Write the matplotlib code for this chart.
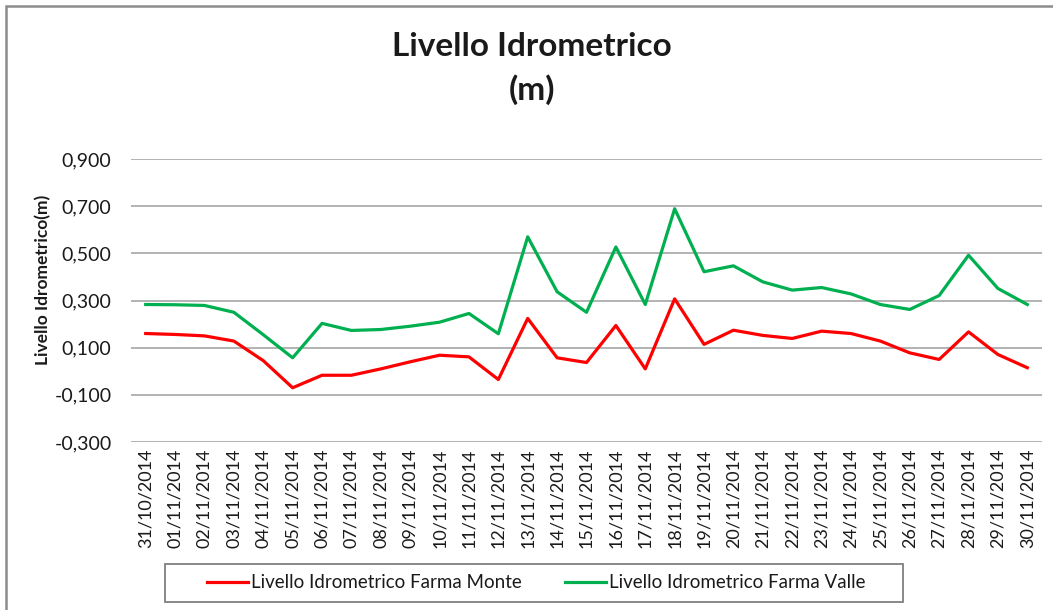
import matplotlib.pyplot as plt
from matplotlib.patches import Rectangle
import numpy as np

# giorni di misura
dates = ["31/10/2014", "01/11/2014", "02/11/2014", "03/11/2014", "04/11/2014",
         "05/11/2014", "06/11/2014", "07/11/2014", "08/11/2014", "09/11/2014",
         "10/11/2014", "11/11/2014", "12/11/2014", "13/11/2014", "14/11/2014",
         "15/11/2014", "16/11/2014", "17/11/2014", "18/11/2014", "19/11/2014",
         "20/11/2014", "21/11/2014", "22/11/2014", "23/11/2014", "24/11/2014",
         "25/11/2014", "26/11/2014", "27/11/2014", "28/11/2014", "29/11/2014",
         "30/11/2014"]

# livelli idrometrici (m)
monte = [0.160, 0.156, 0.150, 0.128, 0.045, -0.070, -0.017, -0.017, 0.010, 0.040,
         0.068, 0.061, -0.035, 0.224, 0.057, 0.037, 0.194, 0.010, 0.307, 0.114,
         0.174, 0.152, 0.139, 0.170, 0.160, 0.128, 0.078, 0.050, 0.167, 0.071,
         0.015]
valle = [0.283, 0.282, 0.279, 0.250, 0.155, 0.057, 0.203, 0.173, 0.177, 0.191,
         0.208, 0.245, 0.159, 0.570, 0.337, 0.250, 0.527, 0.283, 0.689, 0.422,
         0.447, 0.379, 0.344, 0.355, 0.328, 0.283, 0.262, 0.321, 0.492, 0.351,
         0.283]

yticks = [-0.3, -0.1, 0.1, 0.3, 0.5, 0.7, 0.9]

plt.rcParams['font.family'] = ['Lato', 'DejaVu Sans']
txt = "#1a1a1a"
W, H = 1053, 610

fig = plt.figure(figsize=(W / 100, H / 100), dpi=100)
# cornice esterna del grafico
fig.patches.append(Rectangle((6 / W, -0.05), 1.1, 1 - 6 / H + 0.05,
                             transform=fig.transFigure, fill=False,
                             edgecolor="#8c8c8c", linewidth=1.8))

ax = fig.add_axes([131 / W, 1 - 442 / H, 911 / W, 283 / H])
x = np.arange(len(dates))
ax.plot(x, monte, color="#ff0000", lw=2.3, label="Livello Idrometrico Farma Monte")
ax.plot(x, valle, color="#00b050", lw=2.3, label="Livello Idrometrico Farma Valle")

ax.set_xlim(-0.5, len(dates) - 0.5)
ax.set_ylim(-0.3, 0.9)
ax.set_yticks(yticks)
ax.set_yticklabels([f"{v:.3f}".replace(".", ",") for v in yticks], fontsize=14, color=txt)
ax.set_xticks(x)
ax.set_xticklabels(dates, rotation=90, fontsize=13, color=txt)
ax.tick_params(axis="y", length=0, pad=14)
ax.tick_params(axis="x", length=0, pad=5)
ax.grid(axis="y", color="#a6a6a6", lw=1.2)
ax.set_axisbelow(True)
for s in ax.spines.values():
    s.set_visible(False)

ax.set_ylabel("Livello Idrometrico(m)", fontsize=12.5, fontweight="bold", color=txt)
ax.yaxis.set_label_coords(-(131 - 51) / 911, (442 - 280) / 283)

fig.text(0.505, 1 - 47 / H, "Livello Idrometrico", ha="center", va="center",
         fontsize=24, fontweight="bold", color=txt)
fig.text(0.505, 1 - 90 / H, "(m)", ha="center", va="center",
         fontsize=24, fontweight="bold", color=txt)

# riquadro legenda
fig.patches.append(Rectangle((165 / W, 1 - 602 / H), (903 - 165) / W, 38 / H,
                             transform=fig.transFigure, fill=False,
                             edgecolor="#7f7f7f", linewidth=1.3))
leg = fig.legend(loc="center", bbox_to_anchor=(536 / W, 1 - 583 / H), ncol=2,
                 fontsize=13.5, frameon=False, handlelength=2.2,
                 columnspacing=2.3, handletextpad=0.15)
for t in leg.get_texts():
    t.set_color(txt)

fig.savefig("out.png", dpi=100)
